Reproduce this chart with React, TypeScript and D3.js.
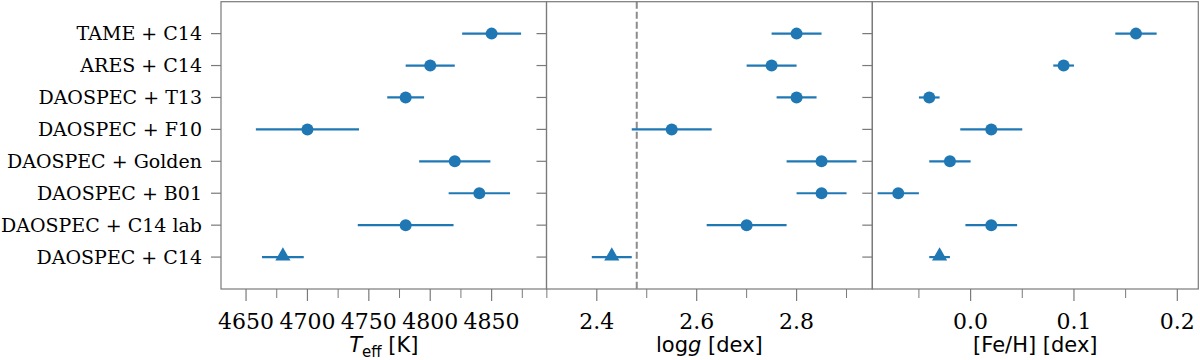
import React from 'react';
import * as d3 from 'd3';

// methods, top to bottom
const methods = [
  'TAME + C14',
  'ARES + C14',
  'DAOSPEC + T13',
  'DAOSPEC + F10',
  'DAOSPEC + Golden',
  'DAOSPEC + B01',
  'DAOSPEC + C14 lab',
  'DAOSPEC + C14',
];

const teff = [4850, 4800, 4780, 4700, 4820, 4840, 4780, 4680];
const teffErr = [24, 20, 15, 42, 29, 25, 39, 17];

const logg = [2.8, 2.75, 2.8, 2.55, 2.85, 2.85, 2.7, 2.43];
const loggErr = [0.05, 0.05, 0.04, 0.08, 0.07, 0.05, 0.08, 0.04];

const feh = [0.16, 0.09, -0.04, 0.02, -0.02, -0.07, 0.02, -0.03];
const fehErr = [0.02, 0.01, 0.01, 0.03, 0.02, 0.02, 0.025, 0.01];

// last row is the reference solution -> triangle marker
const refIndex = 7;
const loggLine = 2.48;

const teffTicks = [4650, 4700, 4750, 4800, 4850];
const teffMinor = [4675, 4725, 4775, 4825, 4875];
const loggTicks = [2.4, 2.6, 2.8];
const loggMinor = [2.3, 2.5, 2.7, 2.9];
const fehTicks = [0.0, 0.1, 0.2];
const fehMinor = [-0.05, 0.05, 0.15];

const blue = '#1f77b4';
const spine = '#7a7a7a';
const top = 1.7;
const bottom = 289;

const y = d3.scaleLinear().domain([-1, 8]).range([top, bottom]);

type Panel = {
  x0: number;
  x1: number;
  domain: [number, number];
  vals: number[];
  errs: number[];
  ticks: number[];
  minor: number[];
  fmt: (v: number) => string;
  label: React.ReactNode;
  vline?: number;
};

const panels: Panel[] = [
  {
    x0: 221,
    x1: 546.5,
    domain: [4629.6, 4894.7],
    vals: teff,
    errs: teffErr,
    ticks: teffTicks,
    minor: teffMinor,
    fmt: d3.format('d'),
    label: (
      <>
        <tspan fontStyle="italic">T</tspan>
        <tspan fontSize={15} dy={5}>eff</tspan>
        <tspan dy={-5}> [K]</tspan>
      </>
    ),
  },
  {
    x0: 546.5,
    x1: 872.3,
    domain: [2.2993, 2.9516],
    vals: logg,
    errs: loggErr,
    ticks: loggTicks,
    minor: loggMinor,
    fmt: d3.format('.1f'),
    label: (
      <>
        <tspan>log</tspan>
        <tspan fontStyle="italic">g</tspan>
        <tspan> [dex]</tspan>
      </>
    ),
    vline: loggLine,
  },
  {
    x0: 872.3,
    x1: 1198.3,
    domain: [-0.0951, 0.2203],
    vals: feh,
    errs: fehErr,
    ticks: fehTicks,
    minor: fehMinor,
    fmt: d3.format('.1f'),
    label: <tspan>[Fe/H] [dex]</tspan>,
  },
];

const tri = d3.symbol().type(d3.symbolTriangle).size(100);

function PanelView({ p }: { p: Panel }) {
  const x = d3.scaleLinear().domain(p.domain).range([p.x0, p.x1]);
  const cx = (p.x0 + p.x1) / 2;
  return (
    <g>
      {p.vline !== undefined && (
        <line
          x1={x(p.vline)}
          x2={x(p.vline)}
          y1={top}
          y2={bottom}
          stroke="#8c8c8c"
          strokeWidth={2}
          strokeDasharray="7,3"
        />
      )}
      {p.vals.map((v, i) => (
        <g key={i}>
          <line
            x1={x(v - p.errs[i])}
            x2={x(v + p.errs[i])}
            y1={y(i)}
            y2={y(i)}
            stroke={blue}
            strokeWidth={2.2}
          />
          {i === refIndex ? (
            <path d={tri() as string} transform={`translate(${x(v)},${y(i) - 1})`} fill={blue} />
          ) : (
            <circle cx={x(v)} cy={y(i)} r={6} fill={blue} />
          )}
        </g>
      ))}
      <rect
        x={p.x0}
        y={top}
        width={p.x1 - p.x0}
        height={bottom - top}
        fill="none"
        stroke={spine}
        strokeWidth={1.2}
      />
      {methods.map((m, i) => (
        <line key={m} x1={p.x0 - 10} x2={p.x0} y1={y(i)} y2={y(i)} stroke={spine} strokeWidth={1.2} />
      ))}
      {p.ticks.map((t) => (
        <g key={'M' + t}>
          <line x1={x(t)} x2={x(t)} y1={bottom} y2={bottom + 12} stroke={spine} strokeWidth={1.2} />
          <text
            x={x(t)}
            y={329}
            textAnchor="middle"
            fontFamily="DejaVu Serif"
            fontSize={22}
            fill="#000"
          >
            {p.fmt(t)}
          </text>
        </g>
      ))}
      {p.minor.map((t) => (
        <line key={'m' + t} x1={x(t)} x2={x(t)} y1={bottom} y2={bottom + 9} stroke={spine} strokeWidth={1} />
      ))}
      <text x={cx} y={352} textAnchor="middle" fontFamily="DejaVu Sans" fontSize={21} fill="#000">
        {p.label}
      </text>
    </g>
  );
}

export default function App() {
  const x0 = panels[0].x0;
  return (
    <svg
      width={1200}
      height={360}
      style={{ position: 'absolute', left: 0, top: 0, background: '#fff' }}
    >
      <rect width={1200} height={360} fill="#fff" />
      {panels.map((p, k) => (
        <PanelView key={k} p={p} />
      ))}
      {methods.map((m, i) => (
        <text
          key={m}
          x={x0 - 19}
          y={y(i)}
          dy="0.35em"
          textAnchor="end"
          fontFamily="DejaVu Serif"
          fontSize={19}
          fill="#000"
        >
          {m}
        </text>
      ))}
    </svg>
  );
}
